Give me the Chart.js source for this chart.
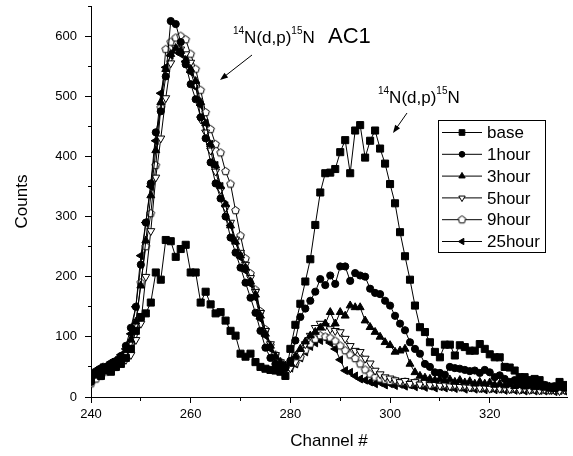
<!DOCTYPE html>
<html>
<head>
<meta charset="utf-8">
<script src="https://cdn.jsdelivr.net/npm/chart.js@4.4.1/dist/chart.umd.min.js"></script>
<style>
  html, body { margin: 0; padding: 0; background: #fff; }
  canvas { display: block; }
</style>
</head>
<body>
<canvas id="spectrum" width="573" height="456"></canvas>
<script>
const FONT = 'Arial, "Liberation Sans", sans-serif';

// one count per channel, channels 240 ... 335
const channels = [];
for (let ch = 240; ch <= 335; ch++) channels.push(ch);

const base = [
  30, 38, 35, 45, 42, 50, 55, 65, 80, 110,
  133, 139, 157, 207, 195, 261, 259, 233, 246, 253,
  207, 207, 157, 175, 154, 139, 141, 127, 110, 102,
  72, 67, 72, 58, 50, 47, 45, 44, 42, 35,
  80, 120, 155, 192, 229, 286, 340, 372, 373, 379,
  407, 427, 372, 443, 452, 398, 426, 443, 413, 388,
  354, 322, 274, 234, 195, 152, 116, 108, 91, 75,
  66, 87, 87, 69, 86, 83, 77, 77, 88, 80,
  71, 66, 66, 50, 49, 44, 33, 33, 28, 30,
  28, 19, 17, 15, 25, 20
];
const hour1 = [
  25, 40, 45, 50, 52, 58, 68, 85, 115, 150,
  220, 290, 355, 440, 475, 533, 625, 620, 590, 553,
  520, 495, 465, 430, 390, 355, 330, 300, 265, 240,
  215, 190, 165, 140, 110, 82, 65, 55, 50, 48,
  60, 94, 133, 147, 160, 175, 196, 186, 202, 188,
  217, 217, 193, 206, 202, 200, 180, 173, 171, 160,
  152, 135, 122, 111, 91, 80, 72, 55, 50, 41,
  40, 37, 50, 48, 47, 45, 43, 44, 40, 45,
  41, 33, 36, 30, 25, 28, 22, 25, 20, 22,
  18, 20, 15, 18, 17, 15
];
const hour3 = [
  35, 42, 48, 45, 55, 60, 65, 78, 95, 125,
  185, 260, 335, 410, 490, 545, 570, 580, 575, 560,
  545, 525, 490, 455, 420, 385, 350, 320, 285, 258,
  235, 215, 192, 170, 135, 105, 85, 68, 58, 52,
  55, 68, 80, 92, 102, 108, 115, 122, 141, 122,
  141, 135, 152, 149, 149, 127, 116, 108, 100, 91,
  86, 75, 77, 80, 55, 41, 35, 32, 30, 28,
  30, 27, 29, 25, 28, 24, 26, 22, 25, 22,
  24, 20, 22, 19, 21, 18, 20, 17, 19, 16,
  18, 15, 17, 14, 16, 15
];
const hour5 = [
  30, 38, 40, 45, 48, 52, 58, 62, 70, 95,
  122, 200, 276, 365, 430, 497, 555, 580, 578, 570,
  556, 520, 462, 440, 410, 375, 345, 315, 290, 262,
  240, 220, 198, 175, 140, 110, 88, 70, 58, 50,
  48, 58, 72, 88, 102, 115, 122, 118, 113, 110,
  108, 97, 85, 77, 75, 64, 56, 44, 38, 33,
  31, 28, 25, 27, 22, 25, 21, 24, 20, 22,
  19, 21, 18, 20, 17, 19, 16, 18, 15, 17,
  14, 16, 14, 15, 13, 15, 12, 14, 12, 13,
  11, 13, 12, 12, 10, 12
];
const hour9 = [
  22, 30, 35, 42, 45, 50, 60, 70, 90, 120,
  190, 250, 305, 385, 481, 578, 590, 597, 600, 594,
  570, 545, 510, 473, 445, 420, 406, 375, 354, 310,
  268, 230, 205, 178, 142, 112, 86, 70, 58, 52,
  50, 56, 66, 78, 88, 96, 102, 100, 98, 93,
  85, 77, 70, 64, 55, 45, 38, 33, 30, 28,
  26, 27, 24, 25, 22, 24, 21, 22, 20, 21,
  19, 20, 18, 19, 17, 18, 16, 17, 15, 16,
  15, 16, 14, 15, 13, 14, 13, 14, 12, 13,
  12, 12, 11, 12, 11, 12
];
const hour25 = [
  32, 45, 50, 52, 58, 62, 70, 80, 105, 150,
  235, 290, 350, 426, 505, 548, 568, 575, 570, 558,
  540, 515, 485, 455, 420, 385, 350, 318, 285, 258,
  232, 210, 188, 165, 130, 102, 80, 64, 55, 50,
  48, 55, 65, 75, 84, 90, 94, 98, 90, 80,
  62, 44, 41, 35, 30, 28, 25, 22, 24, 20,
  22, 19, 21, 18, 20, 17, 19, 16, 18, 15,
  17, 15, 16, 14, 16, 13, 15, 13, 14, 12,
  14, 12, 13, 11, 13, 11, 12, 10, 12, 10,
  11, 10, 11, 9, 11, 10
];

// open pentagon marker, Chart.js has no built-in one
function pentagon(r) {
  const c = document.createElement('canvas');
  const s = Math.ceil(r * 2) + 3;
  c.width = s;
  c.height = s;
  const g = c.getContext('2d');
  g.beginPath();
  for (let i = 0; i < 5; i++) {
    const a = -Math.PI / 2 + i * 2 * Math.PI / 5;
    const px = s / 2 + r * Math.cos(a);
    const py = s / 2 + r * Math.sin(a);
    if (i === 0) g.moveTo(px, py); else g.lineTo(px, py);
  }
  g.closePath();
  g.fillStyle = '#fff';
  g.fill();
  g.strokeStyle = '#000';
  g.lineWidth = 1;
  g.stroke();
  return c;
}

const series = [
  { label: 'base', values: base, style: 'rect', radius: 5, rotation: 0, fill: '#000' },
  { label: '1hour', values: hour1, style: 'circle', radius: 3.6, rotation: 0, fill: '#000' },
  { label: '3hour', values: hour3, style: 'triangle', radius: 4.6, rotation: 0, fill: '#000' },
  { label: '5hour', values: hour5, style: 'triangle', radius: 4.6, rotation: 180, fill: '#fff' },
  { label: '9hour', values: hour9, style: pentagon(4), radius: 4, rotation: 0, fill: '#fff' },
  { label: '25hour', values: hour25, style: 'triangle', radius: 4.6, rotation: -90, fill: '#000' }
];

function toPoints(values) {
  return channels.map((ch, i) => ({ x: ch, y: values[i] }));
}

// text with superscript pieces: [text, size, raise]
function drawParts(ctx, x, y, parts) {
  ctx.textBaseline = 'alphabetic';
  ctx.textAlign = 'left';
  for (const [text, size, raise] of parts) {
    ctx.font = size + 'px ' + FONT;
    ctx.fillText(text, x, y - raise);
    x += ctx.measureText(text).width;
  }
}

function arrow(ctx, x1, y1, x2, y2) {
  const a = Math.atan2(y2 - y1, x2 - x1);
  ctx.beginPath();
  ctx.moveTo(x1, y1);
  ctx.lineTo(x2 - 6 * Math.cos(a), y2 - 6 * Math.sin(a));
  ctx.stroke();
  ctx.beginPath();
  ctx.moveTo(x2, y2);
  ctx.lineTo(x2 - 8 * Math.cos(a) + 3 * Math.sin(a), y2 - 8 * Math.sin(a) - 3 * Math.cos(a));
  ctx.lineTo(x2 - 8 * Math.cos(a) - 3 * Math.sin(a), y2 - 8 * Math.sin(a) + 3 * Math.cos(a));
  ctx.closePath();
  ctx.fill();
}

function legendMarker(ctx, s, x, y) {
  const r = s.radius * 0.8;
  ctx.fillStyle = s.fill;
  if (typeof s.style !== 'string') {
    ctx.drawImage(s.style, x - s.style.width / 2, y - s.style.height / 2);
    return;
  }
  ctx.beginPath();
  if (s.style === 'rect') {
    const h = r * Math.SQRT1_2;
    ctx.rect(x - h, y - h, 2 * h, 2 * h);
  } else if (s.style === 'circle') {
    ctx.arc(x, y, r, 0, Math.PI * 2);
  } else {
    let rad = s.rotation * Math.PI / 180;
    for (let i = 0; i < 3; i++) {
      const px = x + Math.sin(rad) * r;
      const py = y - Math.cos(rad) * r;
      if (i === 0) ctx.moveTo(px, py); else ctx.lineTo(px, py);
      rad += 2 * Math.PI / 3;
    }
    ctx.closePath();
  }
  ctx.fill();
  ctx.stroke();
}

const notes = {
  id: 'notes',
  afterDraw(chart) {
    const ctx = chart.ctx;
    ctx.save();
    ctx.fillStyle = '#000';
    ctx.strokeStyle = '#000';
    ctx.lineWidth = 1;

    drawParts(ctx, 233, 43, [['14', 10, 9], ['N(d,p)', 17, 0], ['15', 10, 9], ['N', 17, 0]]);
    ctx.font = '22px ' + FONT;
    ctx.fillText('AC1', 328, 43);
    arrow(ctx, 252, 55, 220, 80);

    drawParts(ctx, 378, 103, [['14', 10, 9], ['N(d,p)', 17, 0], ['15', 10, 9], ['N', 17, 0]]);
    arrow(ctx, 407, 113, 393, 133);

    // legend box
    ctx.strokeRect(438.5, 120.5, 107, 132);
    series.forEach((s, i) => {
      const y = 132.5 + i * 21.8;
      ctx.strokeStyle = '#000';
      ctx.beginPath();
      ctx.moveTo(442, y);
      ctx.lineTo(482, y);
      ctx.stroke();
      legendMarker(ctx, s, 462, y);
      ctx.fillStyle = '#000';
      ctx.font = '17px ' + FONT;
      ctx.textBaseline = 'middle';
      ctx.fillText(s.label, 487, y + 1);
    });
    ctx.restore();
  }
};

// drop the room Chart.js keeps for half-labels at the axis ends
function noEdgePadding(scale) {
  scale.paddingTop = 0;
  scale.paddingBottom = 0;
  scale.paddingLeft = 0;
  scale.paddingRight = 0;
}

Chart.defaults.font.family = FONT;
Chart.defaults.color = '#000';

new Chart(document.getElementById('spectrum'), {
  type: 'line',
  data: {
    datasets: series.map(s => ({
      label: s.label,
      data: toPoints(s.values),
      borderColor: '#000',
      borderWidth: 1,
      tension: 0,
      pointStyle: s.style,
      pointRadius: s.radius,
      pointRotation: s.rotation,
      pointBackgroundColor: s.fill,
      pointBorderColor: '#000',
      pointBorderWidth: 1
    }))
  },
  options: {
    responsive: false,
    animation: false,
    devicePixelRatio: 1,
    layout: { padding: { top: 5, right: 0, left: 0, bottom: 0 } },
    plugins: { legend: { display: false }, tooltip: { enabled: false } },
    scales: {
      x: {
        type: 'linear',
        min: 240,
        max: 335.5,
        afterBuildTicks(scale) {
          scale.ticks = scale.ticks.filter(t => t.value % 10 === 0);
        },
        afterFit(scale) {
          scale.height = 59;
          noEdgePadding(scale);
        },
        ticks: {
          stepSize: 10,
          autoSkip: false,
          maxRotation: 0,
          padding: 4,
          font: { size: 13 },
          callback: v => (v % 20 === 0 ? String(v) : '')
        },
        grid: {
          drawOnChartArea: false,
          tickLength: 6,
          tickColor: '#000',
          tickBorderDash: ctx => (ctx.tick && ctx.tick.value % 20 !== 0 ? [3, 20] : [])
        },
        border: { color: '#000', width: 1 },
        title: { display: true, text: 'Channel #', font: { size: 17 }, padding: { top: 0, bottom: 4 } }
      },
      y: {
        min: 0,
        max: 650,
        afterBuildTicks(scale) {
          scale.ticks = scale.ticks.filter(t => t.value % 50 === 0);
        },
        afterFit(scale) {
          scale.width = 91;
          noEdgePadding(scale);
        },
        ticks: {
          stepSize: 50,
          autoSkip: false,
          padding: 8,
          font: { size: 13 },
          callback: v => (v % 100 === 0 ? String(v) : '')
        },
        grid: {
          drawOnChartArea: false,
          tickLength: 6,
          tickColor: '#000',
          tickBorderDash: ctx => (ctx.tick && ctx.tick.value % 100 !== 0 ? [0, 3, 3, 20] : [])
        },
        border: { color: '#000', width: 1 },
        title: { display: true, text: 'Counts', font: { size: 17 }, padding: { top: 12, bottom: 0 } }
      }
    }
  },
  plugins: [notes]
});
</script>
</body>
</html>
